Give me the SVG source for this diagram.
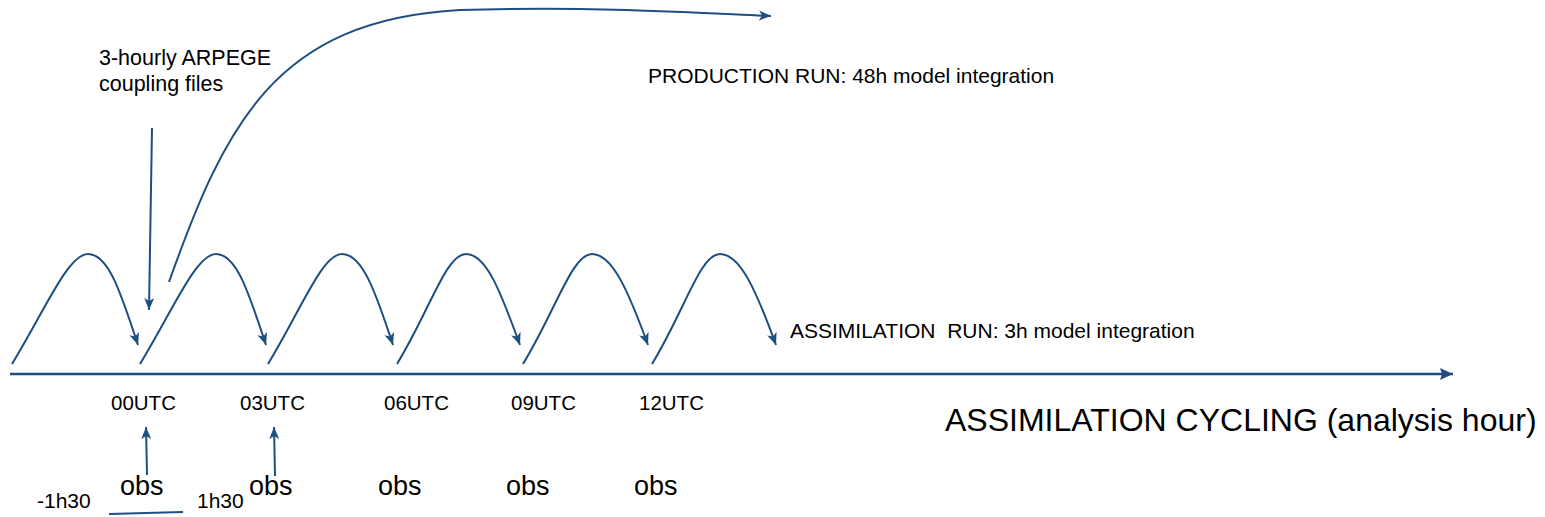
<svg xmlns="http://www.w3.org/2000/svg" width="1545" height="517" viewBox="0 0 1545 517">
<style>
.c{fill:none;stroke:#1f4e80;stroke-width:2}
.ax{fill:none;stroke:#1f4e80;stroke-width:2.5}
text{font-family:"Liberation Sans",Arial,sans-serif;fill:#000}
.s{font-size:21px}
.u{font-size:20.5px}
.o{font-size:27px}
.b{font-size:32px}
</style>
<defs>
<marker id="ah" markerUnits="userSpaceOnUse" markerWidth="14" markerHeight="12" refX="12" refY="5" orient="auto">
<path d="M0,0 L12,5 L0,10 L3,5 z" fill="#1f4e80"/>
</marker>
<marker id="ahb" markerUnits="userSpaceOnUse" markerWidth="16" markerHeight="14" refX="13" refY="6" orient="auto">
<path d="M0,0 L13,6 L0,12 L2,6 z" fill="#1f4e80"/>
</marker>
</defs>
<g id="connectors">
<path id="axis" class="ax" d="M10,374 L1453,374" marker-end="url(#ahb)"/>
<path class="c" d="M12,364 C45,310 68,254 88,254 C108,254 120,290 138,345" marker-end="url(#ah)"/>
<path class="c" d="M140,364 C173,310 196,254 216,254 C236,254 248,290 266,345" marker-end="url(#ah)"/>
<path class="c" d="M268,364 C301,310 322,254 342,254 C362,254 375,290 393,345" marker-end="url(#ah)"/>
<path class="c" d="M397,364 C430,310 446,254 466,254 C486,254 500,290 520,345" marker-end="url(#ah)"/>
<path class="c" d="M523,364 C556,310 572,254 592,254 C612,254 628,290 648,345" marker-end="url(#ah)"/>
<path class="c" d="M652,364 C685,310 700,254 720,254 C740,254 756,290 776,345" marker-end="url(#ah)"/>
<path class="c" d="M152,128 L149,310" marker-end="url(#ah)"/>
<path class="c" d="M169,282 C225,125 275,20 460,10 C600,6 700,13 771,16" marker-end="url(#ah)"/>
<path class="c" d="M147,475 L146,427" marker-end="url(#ah)"/>
<path class="c" d="M275,476 L274,427" marker-end="url(#ah)"/>
<path class="c" d="M109,514 L183,512"/>
</g>
<g id="label-arpege">
<text class="s" x="99" y="65" style="font-size:21.5px">3-hourly ARPEGE</text>
<text class="s" x="99" y="91" style="font-size:21.5px">coupling files</text>
</g>
<g id="label-production"><text class="s" x="648" y="83">PRODUCTION RUN: 48h model integration</text></g>
<g id="label-assim-run"><text class="s" x="790" y="338" xml:space="preserve">ASSIMILATION  RUN: 3h model integration</text></g>
<g id="label-cycling"><text class="b" x="945" y="431">ASSIMILATION CYCLING (analysis hour)</text></g>
<g id="utc-labels">
<text class="u" x="111" y="410">00UTC</text>
<text class="u" x="240" y="410">03UTC</text>
<text class="u" x="384" y="410">06UTC</text>
<text class="u" x="511" y="410">09UTC</text>
<text class="u" x="639" y="410">12UTC</text>
</g>
<g id="obs-labels">
<text class="o" x="120" y="495">obs</text>
<text class="o" x="249" y="495">obs</text>
<text class="o" x="378" y="495">obs</text>
<text class="o" x="506" y="495">obs</text>
<text class="o" x="634" y="495">obs</text>
</g>
<g id="window-labels">
<text class="s" x="37" y="508">-1h30</text>
<text class="s" x="197" y="508">1h30</text>
</g>
</svg>
